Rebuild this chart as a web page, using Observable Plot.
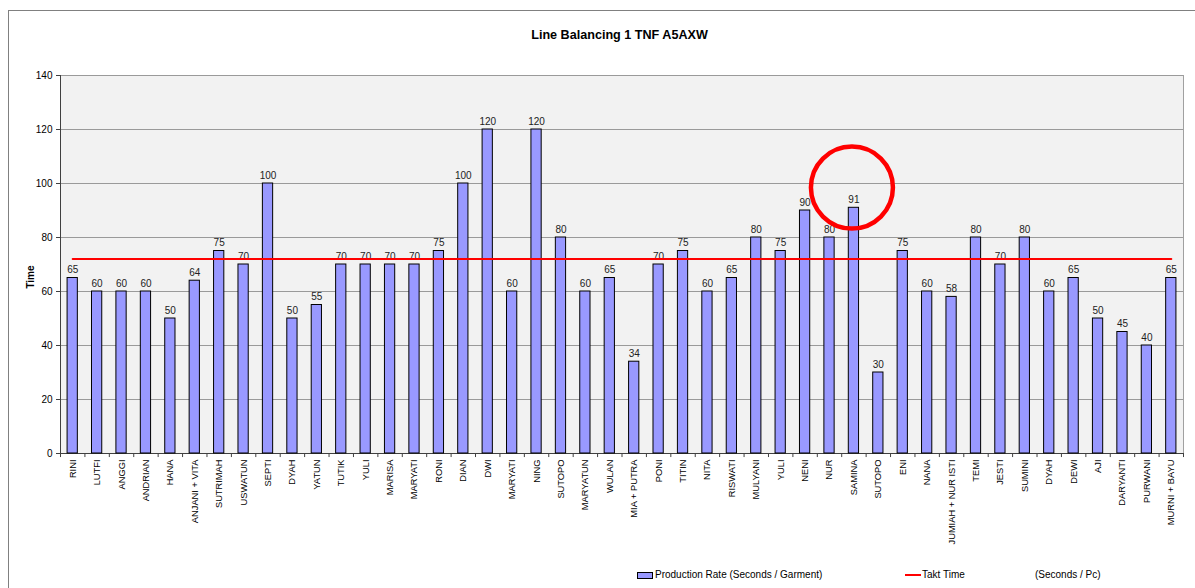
<!DOCTYPE html>
<html><head><meta charset="utf-8">
<script src="https://cdn.jsdelivr.net/npm/d3@7"></script>
<script src="https://cdn.jsdelivr.net/npm/@observablehq/plot@0.6"></script>
<style>
body{margin:0;width:1195px;height:588px;overflow:hidden;background:#fff;font-family:"Liberation Sans",Arial,sans-serif;position:relative;color:#000}
#frame{position:absolute;left:8px;top:10px;width:1200px;height:600px;border-left:1px solid #808080;border-top:1px solid #808080}
#title{position:absolute;left:22px;width:1195px;top:28px;text-align:center;font-weight:bold;font-size:12.6px}
#chart{position:absolute;left:0;top:60px}
#ylabel{position:absolute;left:30px;top:277px;transform:translate(-50%,-50%) rotate(-90deg);font-weight:bold;font-size:10px}
.lg{position:absolute;top:569px;font-size:10px;line-height:12px;white-space:nowrap}
.sw{position:absolute;left:637px;top:572px;width:14px;height:5px;background:#9999ff;border:1px solid #000}
.ln{position:absolute;left:905px;top:574px;width:16px;height:2px;background:#ff0000}
</style></head>
<body>
<div id="frame"></div>
<div id="title"></div>
<div id="chart"></div>
<div id="ylabel">Time</div>
<div class="sw"></div><div class="lg" id="lg1" style="left:655px"></div>
<div class="ln"></div><div class="lg" id="lg2" style="left:922px"></div>
<div class="lg" id="lg3" style="left:1035px"></div>
<script>
const title = "Line Balancing 1 TNF A5AXW";
const operators = ["RINI","LUTFI","ANGGI","ANDRIAN","HANA","ANJANI + VITA","SUTRIMAH","USWATUN","SEPTI","DYAH","YATUN","TUTIK","YULI","MARISA","MARYATI","RONI","DIAN","DWI","MARYATI","NING","SUTOPO","MARYATUN","WULAN","MIA + PUTRA","PONI","TITIN","NITA","RISWATI","MULYANI","YULI","NENI","NUR","SAMINA","SUTOPO","ENI","NANA","JUMIAH + NUR ISTI","TEMI","JESTI","SUMINI","DYAH","DEWI","AJI","DARYANTI","PURWANI","MURNI + BAYU"];
const productionRate = [65,60,60,60,50,64,75,70,100,50,55,70,70,70,70,75,100,120,60,120,80,60,65,34,70,75,60,65,80,75,90,80,91,30,75,60,58,80,70,80,60,65,50,45,40,65];
const taktTime = 72;
const yTicks = [0,20,40,60,80,100,120,140];
const highlightOperator = 32; // SAMINA
const highlightCenterY = 98.5;
const legendLabels = ["Production Rate (Seconds / Garment)","Takt Time","(Seconds / Pc)"];

document.getElementById("title").textContent = title;
document.getElementById("lg1").textContent = legendLabels[0];
document.getElementById("lg2").textContent = legendLabels[1];
document.getElementById("lg3").textContent = legendLabels[2];

const W = 1195, mL = 60, mR = 12;
const n = operators.length;
const step = (W - mL - mR) / n;
const keys = d3.range(n);
const data = keys.map(i => ({key: i, name: operators[i], value: productionRate[i]}));
const takt = [{key: 0, v: taktTime}, {key: n - 1, v: taktTime}];

const chart = Plot.plot({
  width: W, height: 493,
  marginLeft: mL, marginRight: mR, marginTop: 15, marginBottom: 100,
  style: {fontFamily: '"Liberation Sans", Arial, sans-serif', color: "#000", background: "transparent"},
  x: {domain: keys, paddingInner: 0.58, paddingOuter: 0.29, align: 0.5, round: false, label: null},
  y: {domain: [0, 140], label: null},
  marks: [
    Plot.frame({fill: "#f2f2f2", stroke: "#a0a0a0"}),
    Plot.gridY(yTicks, {stroke: "#9a9a9a", strokeOpacity: 1}),
    Plot.ruleX([0], {x: d => d, dx: -step / 2, y1: 0, y2: 140, stroke: "#404040"}),
    Plot.ruleY([0], {stroke: "#404040"}),
    Plot.ruleX(keys, {x: d => d, dx: -step / 2, y1: 0, y2: -1.5, stroke: "#404040"}),
    Plot.ruleX([n - 1], {x: d => d, dx: step / 2, y1: 0, y2: -1.5, stroke: "#404040"}),
    Plot.barY(data, {x: "key", y: "value", fill: "#9999ff", stroke: "#000", strokeWidth: 1}),
    Plot.text(data, {x: "key", y: "value", text: d => String(d.value), dy: -8, fontSize: 10, fill: "#222"}),
    Plot.line(takt, {x: "key", y: "v", stroke: "#ff0000", strokeWidth: 2}),
    Plot.dot([{key: highlightOperator, y: highlightCenterY}], {x: "key", y: "y", dx: -2, r: 41, stroke: "#ff0000", strokeWidth: 4.5, fill: "none"}),
    Plot.axisY(yTicks, {tickSize: 4, fontSize: 10, tickPadding: 4, label: null, stroke: "#404040"}),
    Plot.axisX({tickSize: 0, tickRotate: -90, tickPadding: 6, fontSize: 9.3, tickFormat: i => operators[i], label: null})
  ]
});
document.getElementById("chart").appendChild(chart);
</script>
</body></html>
